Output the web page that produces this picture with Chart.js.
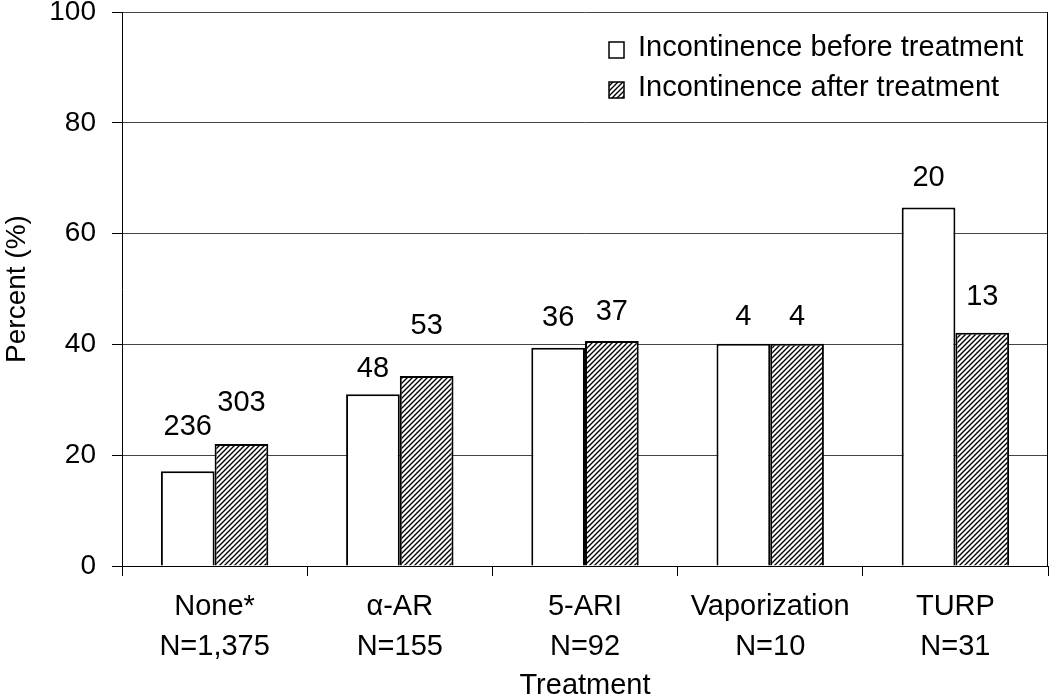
<!DOCTYPE html>
<html>
<head>
<meta charset="utf-8">
<script src="https://cdn.jsdelivr.net/npm/chart.js@4"></script>
<style>
html, body { margin: 0; padding: 0; background: #fff; }
</style>
</head>
<body>
<canvas id="myChart" width="1050" height="698"></canvas>
<script>
var categories = ['None*', 'α-AR', '5-ARI', 'Vaporization', 'TURP'];
var sampleSizes = ['N=1,375', 'N=155', 'N=92', 'N=10', 'N=31'];
var beforeValues = [17.1, 31.0, 39.4, 40.1, 64.7];
var afterValues = [22.0, 34.3, 40.6, 40.1, 42.1];
var beforeCounts = [236, 48, 36, 4, 20];
var afterCounts = [303, 53, 37, 4, 13];
var yTicks = [0, 20, 40, 60, 80, 100];

var FONT = '"Liberation Sans", Arial, sans-serif';

// diagonal hatch for the "after" bars
function hatchPattern(ctx) {
    var c = document.createElement('canvas');
    c.width = 5; c.height = 5;
    var g = c.getContext('2d');
    g.fillStyle = '#fff';
    g.fillRect(0, 0, 5, 5);
    g.strokeStyle = '#000';
    g.lineWidth = 1.4;
    g.beginPath();
    g.moveTo(-1, 6); g.lineTo(6, -1);
    g.moveTo(-3.5, 3.5); g.lineTo(3.5, -3.5);
    g.moveTo(1.5, 8.5); g.lineTo(8.5, 1.5);
    g.stroke();
    return ctx.createPattern(c, 'repeat');
}

// counts above bars, small per-label lift in px like the original
var labelPlugin = {
    id: 'barCounts',
    afterDatasetsDraw: function(chart, args, opts) {
        var ctx = chart.ctx;
        ctx.save();
        ctx.font = '29px ' + FONT;
        ctx.fillStyle = '#000';
        ctx.textAlign = 'center';
        ctx.textBaseline = 'middle';
        var counts = [beforeCounts, afterCounts];
        chart.data.datasets.forEach(function(ds, i) {
            var meta = chart.getDatasetMeta(i);
            meta.data.forEach(function(bar, j) {
                var lift = opts.lift[i][j];
                ctx.fillText(String(counts[i][j]), bar.x, bar.y - lift);
            });
        });
        ctx.restore();
    }
};

// legend inside top right + right frame line
var framePlugin = {
    id: 'frameLegend',
    afterDraw: function(chart) {
        var ctx = chart.ctx, a = chart.chartArea;
        ctx.save();
        ctx.strokeStyle = '#000';
        ctx.lineWidth = 1;
        ctx.beginPath();
        ctx.moveTo(a.right - 0.5, a.top);
        ctx.lineTo(a.right - 0.5, a.bottom);
        ctx.stroke();

        var bx = a.right - 439;
        var rows = [50, 90];
        ctx.font = '29px ' + FONT;
        ctx.textAlign = 'left';
        ctx.textBaseline = 'middle';
        chart.data.datasets.forEach(function(ds, i) {
            var cy = rows[i];
            ctx.fillStyle = ds.backgroundColor;
            ctx.fillRect(bx, cy - 8, 15, 16);
            ctx.lineWidth = 1.5;
            ctx.strokeStyle = '#000';
            ctx.strokeRect(bx, cy - 8, 15, 16);
            ctx.fillStyle = '#000';
            ctx.fillText(ds.label, bx + 29, cy - 2);
        });
        ctx.restore();
    }
};

function init() {
    var ctx = document.getElementById('myChart').getContext('2d');
    var labels = categories.map(function(c, i) { return [c, sampleSizes[i]]; });

    var chart = new Chart(ctx, {
        type: 'bar',
        data: {
            labels: labels,
            datasets: [{
                label: 'Incontinence before treatment',
                data: beforeValues,
                backgroundColor: '#fff',
                borderColor: '#000',
                borderWidth: 2,
                categoryPercentage: 0.58,
                barPercentage: 1.0
            }, {
                label: 'Incontinence after treatment',
                data: afterValues,
                backgroundColor: hatchPattern(ctx),
                borderColor: '#000',
                borderWidth: 2,
                categoryPercentage: 0.58,
                barPercentage: 1.0
            }]
        },
        options: {
            responsive: false,
            animation: false,
            devicePixelRatio: 1,
            layout: { padding: { top: 12, right: 2, left: 0, bottom: 0 } },
            plugins: {
                legend: { display: false },
                tooltip: { enabled: false },
                barCounts: { lift: [[44, 25, 30, 27, 30], [41, 50, 29, 27, 36]] }
            },
            scales: {
                x: {
                    offset: true,
                    grid: {
                        offset: true,
                        drawOnChartArea: false,
                        drawTicks: true,
                        tickLength: 10,
                        color: '#000',
                        tickColor: '#000'
                    },
                    border: { color: '#000', width: 1 },
                    ticks: {
                        color: '#000',
                        font: { family: FONT, size: 29, lineHeight: 1.38 },
                        padding: 11,
                        maxRotation: 0,
                        autoSkip: false
                    },
                    title: {
                        display: true,
                        text: 'Treatment',
                        color: '#000',
                        font: { family: FONT, size: 29, lineHeight: 0.8 },
                        padding: 0
                    },
                    afterFit: function(s) {
                        s.height = 132;
                        s.paddingLeft = 0;
                        s.paddingRight = 0;
                    }
                },
                y: {
                    min: 0,
                    max: 100,
                    afterBuildTicks: function(s) {
                        s.ticks = yTicks.map(function(v) { return { value: v }; });
                    },
                    grid: {
                        color: '#444',
                        tickColor: '#000',
                        tickLength: 10,
                        drawTicks: true
                    },
                    border: { color: '#000', width: 1 },
                    ticks: {
                        color: '#000',
                        font: { family: FONT, size: 28 },
                        padding: 16
                    },
                    title: {
                        display: true,
                        text: 'Percent (%)',
                        color: '#000',
                        font: { family: FONT, size: 28 },
                        padding: 0
                    },
                    afterFit: function(s) {
                        s.width = 122;
                        s.paddingTop = 0;
                        s.paddingBottom = 0;
                    }
                }
            }
        },
        plugins: [labelPlugin, framePlugin]
    });
}

init();
</script>
</body>
</html>
